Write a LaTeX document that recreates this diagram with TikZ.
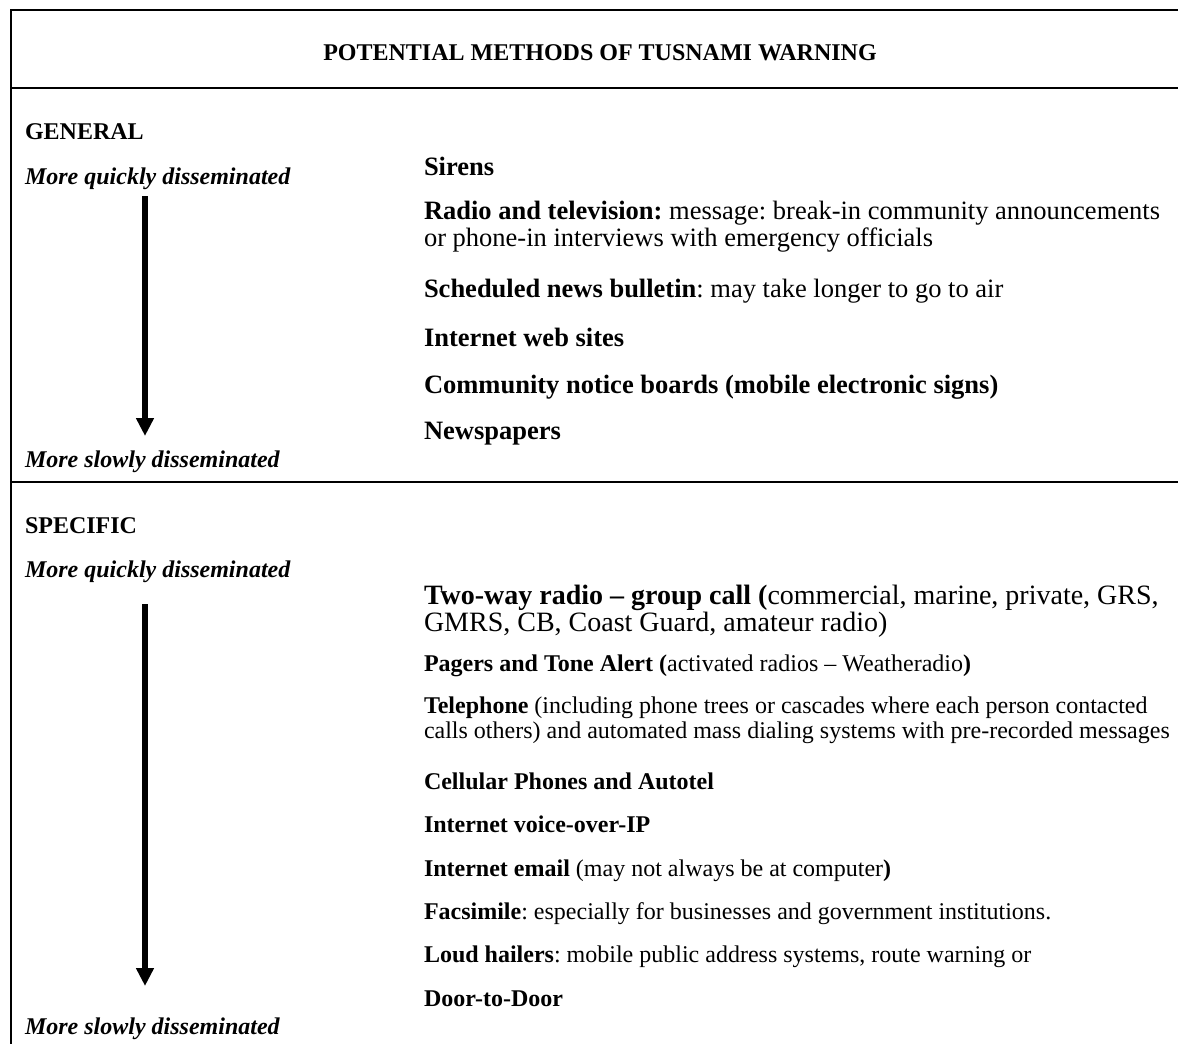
\documentclass[tikz,border=0pt]{standalone}
\usepackage{fontspec}
\setmainfont{Liberation Serif}
\usetikzlibrary{arrows.meta}
\frenchspacing
\begin{document}
\begin{tikzpicture}[x=1pt,y=-1pt,
  frame/.style={line width=1.8pt},
  txt/.style={anchor=base west,inner sep=0pt,outer sep=0pt},
  head/.style={txt,font=\fontsize{24}{28}\selectfont\bfseries},
  slab/.style={txt,font=\fontsize{24}{28}\selectfont\bfseries\itshape},
  big/.style={txt,font=\fontsize{26.5}{30}\selectfont},
  huge/.style={txt,font=\fontsize{28}{32}\selectfont},
  item/.style={txt,font=\fontsize{24}{28}\selectfont},
  flow/.style={line width=6pt,-{Triangle[width=17pt,length=18pt]}}]
\useasboundingbox (0,0) rectangle (1178,1044);
% frame
\draw[frame] (1178,10) -- (11,10) -- (11,1044);
\draw[frame] (11,88) -- (1178,88);
\draw[frame] (11,482) -- (1178,482);
% title
\node[anchor=base,inner sep=0pt,font=\fontsize{24}{28}\selectfont\bfseries] (title) at (600,60) {POTENTIAL METHODS OF TUSNAMI WARNING};
% general section
\node[head] (gen) at (25,139) {GENERAL};
\node[slab] (gq) at (25,184) {More quickly disseminated};
\node[slab] (gs) at (25,467) {More slowly disseminated};
\coordinate (g1) at (145,196);
\coordinate (g2) at (145,436);
\draw[flow] (g1) -- (g2);
\node[big] (sir) at (424,175) {\textbf{Sirens}};
\node[big] (rad1) at (424,219) {\textbf{Radio and television:} message: break-in community announcements};
\node[big] (rad2) at (424,246) {or phone-in interviews with emergency officials};
\node[big] (sch) at (424,297) {\textbf{Scheduled news bulletin}: may take longer to go to air};
\node[big] (web) at (424,346) {\textbf{Internet web sites}};
\node[big] (com) at (424,393) {\textbf{Community notice boards (mobile electronic signs)}};
\node[big] (news) at (424,439) {\textbf{Newspapers}};
% specific section
\node[head] (spec) at (25,533) {SPECIFIC};
\node[slab] (sq) at (25,577) {More quickly disseminated};
\node[slab] (ss) at (25,1034) {More slowly disseminated};
\coordinate (s1) at (145,604);
\coordinate (s2) at (145,986);
\draw[flow] (s1) -- (s2);
\node[huge] (two1) at (424,604) {\textbf{Two-way radio -- group call (}commercial, marine, private, GRS,};
\node[huge] (two2) at (424,631) {GMRS, CB, Coast Guard, amateur radio)};
\node[item] (pag) at (424,671) {\textbf{Pagers and Tone Alert (}activated radios -- Weatheradio\textbf{)}};
\node[item] (tel1) at (424,713) {\textbf{Telephone} (including phone trees or cascades where each person contacted};
\node[item] (tel2) at (424,738) {calls others) and automated mass dialing systems with pre-recorded messages};
\node[item] (cell) at (424,789) {\textbf{Cellular Phones and Autotel}};
\node[item] (voip) at (424,832) {\textbf{Internet voice-over-IP}};
\node[item] (mail) at (424,876) {\textbf{Internet email} (may not always be at computer\textbf{)}};
\node[item] (fax) at (424,919) {\textbf{Facsimile}: especially for businesses and government institutions.};
\node[item] (loud) at (424,962) {\textbf{Loud hailers}: mobile public address systems, route warning or};
\node[item] (door) at (424,1006) {\textbf{Door-to-Door}};
\end{tikzpicture}
\end{document}
